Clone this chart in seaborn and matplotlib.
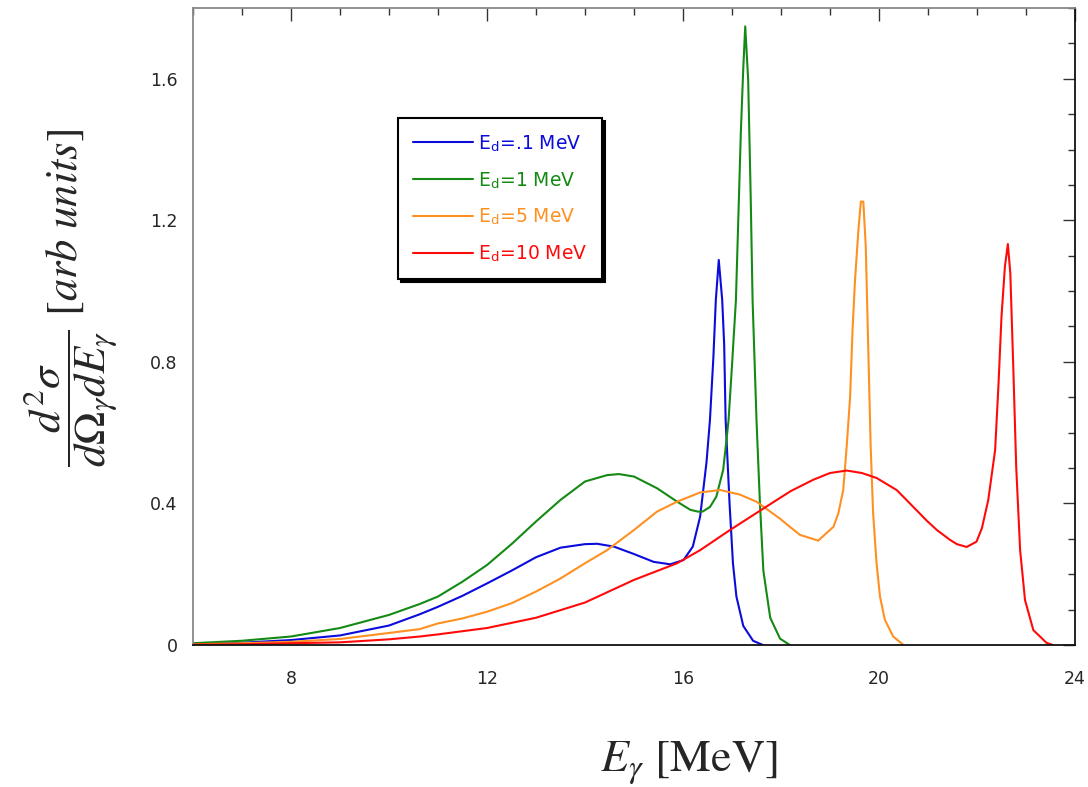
import matplotlib
matplotlib.use("Agg")
import matplotlib.pyplot as plt
from matplotlib.ticker import MultipleLocator, FuncFormatter
import seaborn as sns
import pandas as pd

# ---- data ----
x_d01 = [6.0, 7, 8, 9, 10, 10.63, 11, 11.5, 12, 12.5, 13, 13.5, 14, 14.25, 14.59, 15, 15.4, 15.74,
         16.01, 16.2, 16.35, 16.48, 16.55, 16.62, 16.67, 16.73, 16.8, 16.84, 16.87, 16.95, 17.02,
         17.09, 17.23, 17.43, 17.63]
y_d01 = [0.004, 0.0065, 0.014, 0.027, 0.055, 0.087, 0.108, 0.139, 0.174, 0.21, 0.248, 0.275, 0.285,
         0.286, 0.278, 0.257, 0.235, 0.228, 0.24, 0.278, 0.363, 0.517, 0.636, 0.813, 0.975, 1.088,
         0.975, 0.85, 0.636, 0.40, 0.23, 0.137, 0.054, 0.012, 0.0]

x_d1 = [6, 7, 8, 9, 10, 10.63, 11, 11.5, 12, 12.5, 13, 13.5, 14, 14.45, 14.69, 15, 15.47, 15.88, 16.15,
        16.3, 16.4, 16.55, 16.68, 16.82, 16.88, 16.93, 17.0, 17.08, 17.13, 17.18, 17.23, 17.27, 17.33,
        17.38, 17.42, 17.5, 17.57, 17.64, 17.78, 17.98, 18.18]
y_d1 = [0.005, 0.012, 0.024, 0.048, 0.085, 0.116, 0.137, 0.179, 0.226, 0.285, 0.349, 0.41, 0.462, 0.48,
        0.483, 0.476, 0.443, 0.405, 0.382, 0.377, 0.377, 0.39, 0.419, 0.495, 0.57, 0.636, 0.79, 0.975,
        1.21, 1.447, 1.63, 1.748, 1.597, 1.277, 0.975, 0.636, 0.40, 0.21, 0.077, 0.018, 0.0]

x_d5 = [6, 7, 8, 9, 10, 10.63, 11, 11.5, 12, 12.5, 13, 13.5, 14, 14.45, 15, 15.47, 15.88, 16.35, 16.76,
        17.16, 17.5, 17.98, 18.18, 18.39, 18.76, 19.07, 19.17, 19.27, 19.34, 19.41, 19.46, 19.51, 19.58,
        19.63, 19.68, 19.73, 19.78, 19.83, 19.88, 19.95, 20.02, 20.12, 20.29, 20.5]
y_d5 = [0.002, 0.005, 0.009, 0.017, 0.034, 0.045, 0.061, 0.075, 0.094, 0.118, 0.151, 0.188, 0.231, 0.268,
        0.325, 0.377, 0.405, 0.431, 0.438, 0.425, 0.405, 0.357, 0.334, 0.311, 0.295, 0.334, 0.372, 0.438,
        0.56, 0.70, 0.89, 1.03, 1.173, 1.253, 1.253, 1.126, 0.843, 0.56, 0.372, 0.231, 0.137, 0.071,
        0.024, 0.0]

x_d10 = [6, 7, 8, 9, 10, 10.63, 11, 12, 13, 14, 15, 15.88, 16.35, 16.96, 17.78, 18.2, 18.66, 19.0, 19.34,
         19.65, 19.95, 20.36, 20.56, 20.97, 21.18, 21.45, 21.59, 21.79, 21.99, 22.1, 22.23, 22.37, 22.44,
         22.5, 22.57, 22.63, 22.68, 22.74, 22.80, 22.88, 22.98, 23.15, 23.42, 23.55]
y_d10 = [0.001, 0.002, 0.005, 0.0075, 0.016, 0.024, 0.03, 0.048, 0.077, 0.12, 0.184, 0.231, 0.268, 0.325,
         0.398, 0.435, 0.467, 0.486, 0.493, 0.486, 0.472, 0.438, 0.41, 0.352, 0.325, 0.297, 0.285, 0.277,
         0.292, 0.33, 0.41, 0.551, 0.74, 0.928, 1.07, 1.133, 1.05, 0.787, 0.504, 0.268, 0.127, 0.042,
         0.006, 0.0]

labels = [r"E$_\mathregular{d}$=.1 MeV", r"E$_\mathregular{d}$=1 MeV",
          r"E$_\mathregular{d}$=5 MeV", r"E$_\mathregular{d}$=10 MeV"]
colors = ["#0b0bdc", "#148a14", "#ff9022", "#ff0a0a"]

x_ticks = [8, 12, 16, 20, 24]
y_ticks = [0, 0.4, 0.8, 1.2, 1.6]

# ---- figure ----
sns.set_style("white")
plt.rcParams["font.family"] = ["DejaVu Sans"]
plt.rcParams["mathtext.fontset"] = "stix"

fig = plt.figure(figsize=(10.88, 7.87), dpi=100)
ax = fig.add_axes([193 / 1088, 1 - 645 / 787, (1075 - 193) / 1088, (645 - 8) / 787])

series = [(x_d01, y_d01), (x_d1, y_d1), (x_d5, y_d5), (x_d10, y_d10)]
for (xs, ys), lab, col in zip(series, labels, colors):
    df = pd.DataFrame({"E": xs, "sig": ys})
    sns.lineplot(data=df, x="E", y="sig", color=col, lw=1.5, label=lab, ax=ax)

ax.set_xlim(6, 24)
ax.set_ylim(0, 1.8)
ax.set_xticks(x_ticks)
ax.set_yticks(y_ticks)
ax.xaxis.set_minor_locator(MultipleLocator(1))
ax.yaxis.set_minor_locator(MultipleLocator(0.1))
ax.yaxis.set_major_formatter(FuncFormatter(lambda v, p: "0" if abs(v) < 1e-9 else f"{v:.1f}"))
ax.tick_params(which="both", direction="in", top=True, right=True, labelsize=12.5, color="#333333")
ax.tick_params(which="major", length=9, width=1)
ax.tick_params(which="minor", length=5, width=1)
ax.tick_params(axis="x", pad=18)
ax.tick_params(axis="y", pad=11)

for side in ["left", "top"]:
    ax.spines[side].set_color("#888888")
for side in ["bottom", "right"]:
    ax.spines[side].set_color("#111111")
for sp in ax.spines.values():
    sp.set_linewidth(1.3)

ax.set_xlabel("")
ax.set_ylabel(r"$\dfrac{d^2\sigma}{d\Omega_\gamma dE_\gamma}\ [arb\ units]$", fontsize=32)
ax.yaxis.set_label_coords(-0.083, 0.545)

fig.text(689 / 1088, 1 - 763 / 787, r"$E_\gamma$ [MeV]", fontsize=33, family="STIXGeneral",
         ha="center", va="center")

leg = ax.legend(loc="upper left", bbox_to_anchor=((398 - 193) / 882, (645 - 118) / 637),
                borderaxespad=0, frameon=True, fancybox=False,
                shadow={"color": "black", "alpha": 1.0}, fontsize=13.5,
                labelcolor="linecolor", handlelength=3.2, handletextpad=0.27,
                labelspacing=0.86, borderpad=0.8)
leg.get_frame().set_edgecolor("black")
leg.get_frame().set_linewidth(1.5)
leg.get_frame().set_alpha(1)

fig.savefig("out.png", dpi=100)
